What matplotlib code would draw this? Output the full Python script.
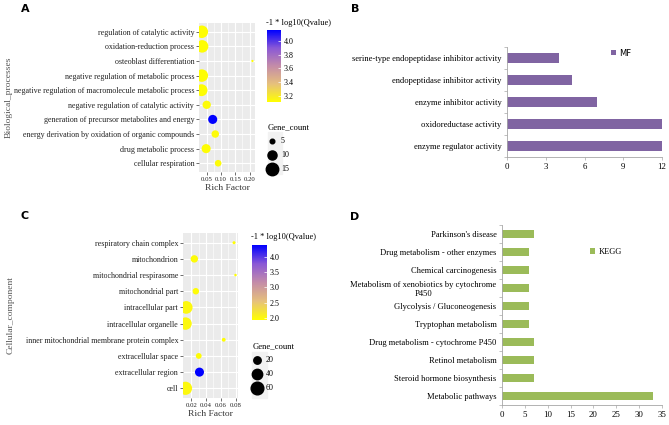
import numpy as np
import matplotlib
matplotlib.use("Agg")
from matplotlib import pyplot as plt
from matplotlib.colors import LinearSegmentedColormap, Normalize
from matplotlib.patches import Rectangle

plt.rcParams['font.family'] = ['Liberation Serif', 'DejaVu Serif']

# ---- data ----
bp_terms = ['regulation of catalytic activity', 'oxidation-reduction process',
            'osteoblast differentiation', 'negative regulation of metabolic process',
            'negative regulation of macromolecule metabolic process',
            'negative regulation of catalytic activity',
            'generation of precursor metabolites and energy',
            'energy derivation by oxidation of organic compounds',
            'drug metabolic process', 'cellular respiration']
bp_rich = [0.033, 0.034, 0.210, 0.033, 0.032, 0.050, 0.071, 0.080, 0.048, 0.090]
bp_count = [15, 15, 3, 15, 14, 9, 10, 8, 10, 7]
bp_q = [3.12, 3.12, 3.11, 3.12, 3.12, 3.13, 4.16, 3.13, 3.12, 3.13]

cc_terms = ['respiratory chain complex', 'mitochondrion', 'mitochondrial respirasome',
            'mitochondrial part', 'intracellular part', 'intracellular organelle',
            'inner mitochondrial membrane protein complex', 'extracellular space',
            'extracellular region', 'cell']
cc_rich = [0.078, 0.024, 0.080, 0.026, 0.013, 0.012, 0.064, 0.030, 0.031, 0.012]
cc_count = [3, 20, 2, 15, 60, 58, 5, 12, 30, 65]
cc_q = [1.95, 1.97, 1.93, 1.96, 2.0, 2.0, 1.95, 1.96, 4.39, 2.0]

mf_terms = ['serine-type endopeptidase inhibitor activity', 'endopeptidase inhibitor activity',
            'enzyme inhibitor activity', 'oxidoreductase activity', 'enzyme regulator activity']
mf_count = [4, 5, 7, 12, 12]

kegg_terms = ["Parkinson's disease", 'Drug metabolism - other enzymes',
              'Chemical carcinogenesis', 'Metabolism of xenobiotics by cytochrome\nP450',
              'Glycolysis / Gluconeogenesis', 'Tryptophan metabolism',
              'Drug metabolism - cytochrome P450', 'Retinol metabolism',
              'Steroid hormone biosynthesis', 'Metabolic pathways']
kegg_count = [7, 6, 6, 6, 6, 6, 7, 7, 7, 33]

cmap = LinearSegmentedColormap.from_list('yb', ['#FFFF00', '#E6C07C', '#C48CA8', '#8A58D6', '#0000FF'])

fig = plt.figure(figsize=(6.69, 4.25), dpi=100)
W, H = 669.0, 425.0


def fax(x0, y0, x1, y1):
    # pixel box -> figure axes
    return fig.add_axes([x0 / W, 1 - y1 / H, (x1 - x0) / W, (y1 - y0) / H])


def dot_size(v, vmin, vmax, dmin, dmax):
    v = np.asarray(v, dtype=float)
    d = dmin + (np.sqrt(v) - np.sqrt(vmin)) / (np.sqrt(vmax) - np.sqrt(vmin)) * (dmax - dmin)
    return d ** 2


def bubble(box, cbox, terms, rich, count, q, xticks, xfmt, ylab, ylab_pos,
           cticks, cfmt, sizes_leg, leg_pos, grey_box, title_pos, smin, smax):
    ax = fax(*box)
    n = len(terms)
    y = np.arange(n)[::-1]
    vmin, vmax = min(count), max(count)
    norm = Normalize(min(q), max(q))
    ax.set_facecolor('#EBEBEB')
    xr = max(rich) - min(rich)
    ax.set_xlim(min(rich) - 0.05 * xr, max(rich) + 0.05 * xr)
    ax.set_ylim(-0.6, n - 0.4)
    ax.set_xticks(xticks)
    ax.set_xticklabels([xfmt % t for t in xticks])
    minor = [(a + b) / 2 for a, b in zip(xticks[:-1], xticks[1:])]
    ax.set_xticks(minor, minor=True)
    ax.grid(True, which='major', color='white', lw=0.8)
    ax.grid(True, which='minor', axis='x', color='white', lw=0.4)
    ax.set_axisbelow(True)
    ax.set_yticks(y)
    ax.set_yticklabels(terms)
    for s in ax.spines.values():
        s.set_visible(False)
    ax.tick_params(axis='both', which='major', length=2, width=0.5, color='#333333',
                   labelsize=5.8, pad=1.5, labelcolor='#222222')
    ax.tick_params(axis='x', labelsize=4.9)
    ax.tick_params(axis='x', which='minor', length=0)
    ax.scatter(rich, y, s=dot_size(count, vmin, vmax, smin, smax), c=q, cmap=cmap,
               norm=norm, edgecolors='none', zorder=3)
    ax.set_xlabel('Rich Factor', fontsize=6.8, labelpad=1.5, color='#333333')
    fig.text(ylab_pos[0] / W, 1 - ylab_pos[1] / H, ylab, rotation=90, fontsize=6.8,
             ha='center', va='center', color='#555555')
    # colorbar
    cax = fax(*cbox)
    sm = plt.cm.ScalarMappable(norm=norm, cmap=cmap)
    cb = fig.colorbar(sm, cax=cax, ticks=cticks)
    cb.outline.set_visible(False)
    cb.ax.set_yticklabels([cfmt % t for t in cticks])
    cb.ax.tick_params(labelsize=5.8, length=2, width=0.5, color='white', pad=2,
                      direction='in')
    fig.text(title_pos[0] / W, 1 - title_pos[1] / H, '-1 * log10(Qvalue)', fontsize=6,
             ha='left', va='center')
    # size legend
    fig.patches.append(Rectangle((grey_box[0] / W, 1 - grey_box[3] / H),
                                 (grey_box[2] - grey_box[0]) / W,
                                 (grey_box[3] - grey_box[1]) / H,
                                 transform=fig.transFigure, color='#F2F2F2', zorder=0))
    handles = [ax.scatter([], [], s=dot_size(v, vmin, vmax, smin, smax), c='black')
               for v in sizes_leg]
    leg = fig.legend(handles, [str(v) for v in sizes_leg], title='Gene_count',
                     loc='upper left', bbox_to_anchor=(leg_pos[0] / W, 1 - leg_pos[1] / H),
                     frameon=False, fontsize=5.8, title_fontsize=6.2, labelspacing=0.75,
                     handletextpad=0.6, borderpad=0, handlelength=1.0)
    leg._legend_box.align = 'left'
    return ax


bubble((199, 23, 255, 172), (267, 30, 281, 102), bp_terms, bp_rich, bp_count, bp_q,
       [0.05, 0.10, 0.15, 0.20], '%.2f', 'Biological_processes', (9, 97),
       [3.2, 3.4, 3.6, 3.8, 4.0], '%.1f', [5, 10, 15], (264, 119), (268, 132, 282, 174),
       (266, 23), 1.6, 9.0)

bubble((183, 233, 238, 398), (252, 245, 267, 320), cc_terms, cc_rich, cc_count, cc_q,
       [0.02, 0.04, 0.06, 0.08], '%.2f', 'Cellular_component', (11, 315),
       [2.0, 2.5, 3.0, 3.5, 4.0], '%.1f', [20, 40, 60], (249, 338), (252, 352, 267, 398),
       (251, 237), 1.8, 9.5)


def hbar(box, terms, vals, color, xmax, step, label, leg_xy, lab_size, leg_family):
    ax = fax(*box)
    n = len(terms)
    y = np.arange(n)[::-1]
    ax.barh(y, vals, height=0.42, color=color, label=label)
    ax.set_xlim(0, xmax)
    ax.set_ylim(-0.5, n - 0.5)
    ax.set_xticks(np.arange(0, xmax + 0.1, step))
    ax.set_yticks(y)
    ax.set_yticklabels(terms, multialignment='center')
    ax.set_yticks(np.arange(-0.5, n, 1.0), minor=True)
    for s in ['top', 'right']:
        ax.spines[s].set_visible(False)
    for s in ['left', 'bottom']:
        ax.spines[s].set_color('#A6A6A6')
        ax.spines[s].set_linewidth(0.6)
    ax.tick_params(axis='y', which='major', length=0, labelsize=lab_size, pad=4)
    ax.tick_params(axis='y', which='minor', length=2.5, width=0.5, color='#A6A6A6')
    ax.tick_params(axis='x', length=2.5, width=0.5, color='#A6A6A6', labelsize=6.3, pad=2)
    ax.legend(loc='center left', bbox_to_anchor=(leg_xy[0] / W, 1 - leg_xy[1] / H),
              bbox_transform=fig.transFigure, frameon=False,
              handlelength=0.6, handleheight=0.6, handletextpad=0.4, borderpad=0,
              prop={'family': leg_family, 'size': 6})
    return ax


hbar((507, 47, 662, 157), mf_terms, mf_count, '#8064A2', 12, 3, 'MF', (607, 53), 6.1,
     'DejaVu Sans')
hbar((502, 225, 662, 405), kegg_terms, kegg_count, '#9BBB59', 35, 5, 'KEGG', (586, 252), 6.1,
     'Liberation Serif')

for letter, (px, py) in zip('ABCD', [(25, 9), (355, 9), (25, 216), (355, 217)]):
    fig.text(px / W, 1 - py / H, letter, fontsize=8, fontweight='bold',
             family='DejaVu Sans', ha='center', va='center')

plt.savefig('out.png', dpi=100)
